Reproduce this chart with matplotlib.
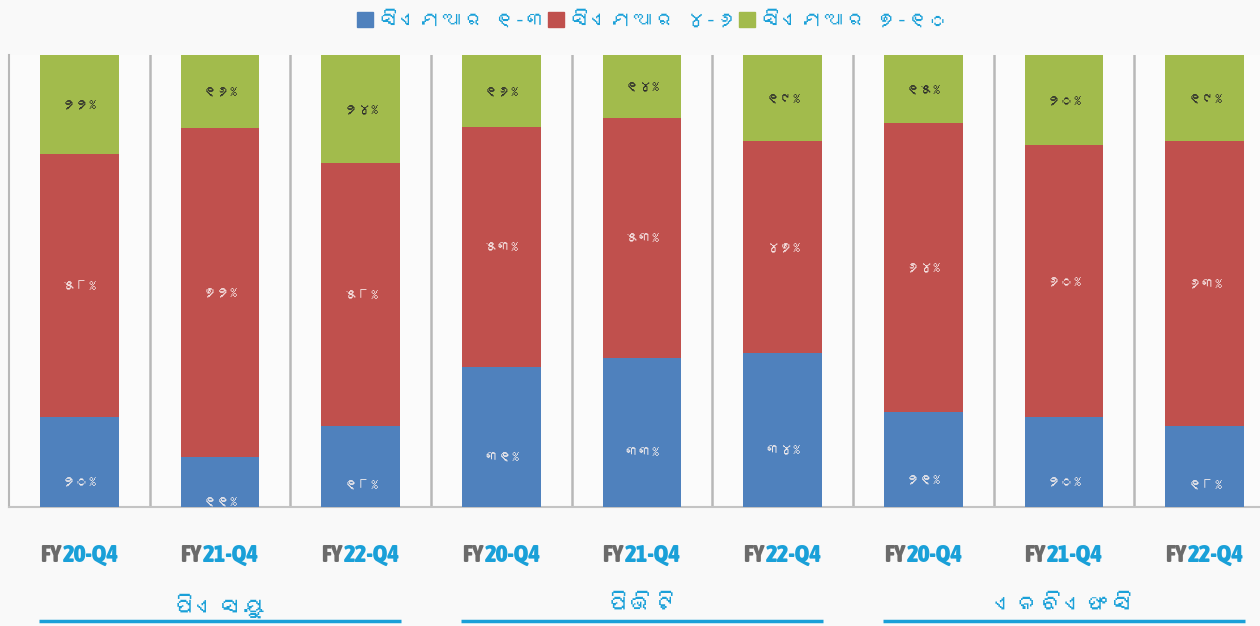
import matplotlib
matplotlib.use("Agg")
import matplotlib.pyplot as plt
import matplotlib.transforms as mtransforms
from matplotlib import font_manager
from matplotlib.ft2font import FT2Font
from matplotlib.patches import Patch
import numpy as np

# data
groups = ["ପିଏସୟୁ", "ପିଭିଟି", "ଏନବିଏଫସି"]
periods = ["20-Q4", "21-Q4", "22-Q4"]
series = ["ସିଏମଆର ୧-୩", "ସିଏମଆର ୪-୬", "ସିଏମଆର ୭-୧୦"]
cmr_1_3 = [20, 11, 18, 31, 33, 34, 21, 20, 18]
cmr_4_6 = [58, 72, 58, 53, 53, 47, 64, 60, 63]
cmr_7_10 = [22, 16, 24, 16, 14, 19, 15, 20, 19]

colors = ["#4f81bd", "#c0504d", "#a2bb4c"]
label_colors = ["#f2ecec", "#f6e4e4", "#2b2b2b"]
accent = "#1aa0d8"
fy_gray = "#6b6b6b"


def find_odia_font():
    # pick any installed font that has Odia letters and digits
    for f in font_manager.fontManager.ttflist:
        try:
            cmap = FT2Font(f.fname).get_charmap()
        except Exception:
            continue
        if 0x0B2A in cmap and 0x0B67 in cmap:
            return f.name
    return None


def weight_num(w):
    if isinstance(w, int):
        return w
    return font_manager.weight_dict.get(w, 400)


def find_narrow_font():
    # prefer a narrow family that also has a bold face
    narrow = [f for f in font_manager.fontManager.ttflist
              if "Narrow" in f.name or "Condensed" in f.name]
    bold = [f for f in narrow if weight_num(f.weight) >= 600]
    if bold:
        return bold[0].fname
    if narrow:
        return narrow[0].fname
    return None


odia = find_odia_font()
fam = [odia, "DejaVu Sans"] if odia else ["Noto Sans", "DejaVu Sans"]
plt.rcParams["font.family"] = fam
narrow_path = find_narrow_font()

odia_digits = "୦୧୨୩୪୫୬୭୮୯"


def to_odia(n):
    return "".join(odia_digits[int(c)] for c in str(n))


fig = plt.figure(figsize=(12.6, 6.26), dpi=100, facecolor="#f9f9f9")
ax = fig.add_axes([9 / 1260, 119 / 626, 1266 / 1260, 452 / 626])
ax.set_facecolor("#fbfbfb")

data = np.array([cmr_1_3, cmr_4_6, cmr_7_10], dtype=float)
shares = data / data.sum(axis=0) * 100
x = np.arange(len(cmr_1_3))
width = 0.56

bottom = np.zeros(len(x))
for k in range(3):
    ax.bar(x, shares[k], width, bottom=bottom, color=colors[k], zorder=3)
    for i in range(len(x)):
        yc = bottom[i] + shares[k][i] / 2
        off = -14 if k == 0 else 0
        ax.annotate(to_odia(int(data[k][i])) + "%", (x[i], yc),
                    xytext=(0, off), textcoords="offset points",
                    ha="center", va="center", fontsize=10,
                    color=label_colors[k], zorder=4)
    bottom += shares[k]

ax.set_xlim(-0.5, len(x) - 0.5)
ax.set_ylim(0, 100)
ax.set_xticks([])
ax.set_yticks([])
for s in ["top", "right"]:
    ax.spines[s].set_visible(False)
ax.spines["left"].set_color("#b8b8b8")
ax.spines["bottom"].set_color("#c4c4c4")
ax.spines["left"].set_linewidth(1.5)
ax.spines["bottom"].set_linewidth(1.5)

# separators between bars
for i in range(len(x) - 1):
    ax.axvline(i + 0.5, color="#b8b8b8", lw=1.8, zorder=1)

trans = mtransforms.blended_transform_factory(ax.transData, ax.transAxes)

# two-colour tick labels: grey "FY" + blue year/quarter
fig.canvas.draw()
r = fig.canvas.get_renderer()
if narrow_path:
    tick_font = dict(fontproperties=font_manager.FontProperties(
        fname=narrow_path, size=18, weight="bold"))
else:
    tick_font = dict(fontsize=13, fontweight="bold", family="DejaVu Sans")
gap = 1.5
for i in range(len(x)):
    p = periods[i % 3]
    tmp = ax.text(0, 0, "FY", **tick_font)
    w_fy = tmp.get_window_extent(r).width + gap
    tmp.remove()
    tmp = ax.text(0, 0, p, **tick_font)
    w_p = tmp.get_window_extent(r).width
    tmp.remove()
    w_all = w_fy + w_p
    t1 = mtransforms.offset_copy(trans, fig=fig, x=-w_all / 2, y=0, units="dots")
    t2 = mtransforms.offset_copy(trans, fig=fig, x=-w_all / 2 + w_fy, y=0, units="dots")
    ax.text(x[i], -0.108, "FY", transform=t1, ha="left", va="center",
            color=fy_gray, clip_on=False, **tick_font)
    ax.text(x[i], -0.108, p, transform=t2, ha="left", va="center",
            color=accent, clip_on=False, **tick_font)

# group names with underline
for g, name in enumerate(groups):
    c = g * 3 + 1
    ax.text(c, -0.218, name, transform=trans, ha="center", va="center",
            fontsize=17, color=accent, clip_on=False)
    ax.plot([g * 3 - 0.29, g * 3 + 2.29], [-0.252, -0.252], transform=trans,
            color=accent, lw=2.5, clip_on=False, solid_capstyle="butt")

handles = [Patch(color=colors[k], label=series[k]) for k in range(3)]
leg = fig.legend(handles=handles, loc="upper center", ncol=3,
                 bbox_to_anchor=(653 / 1260, 1.012), frameon=False,
                 fontsize=15, handlelength=0.75, handleheight=0.75,
                 handletextpad=0.3, columnspacing=0.1)
for t in leg.get_texts():
    t.set_color(accent)

fig.savefig("out.png", dpi=100, facecolor=fig.get_facecolor())
